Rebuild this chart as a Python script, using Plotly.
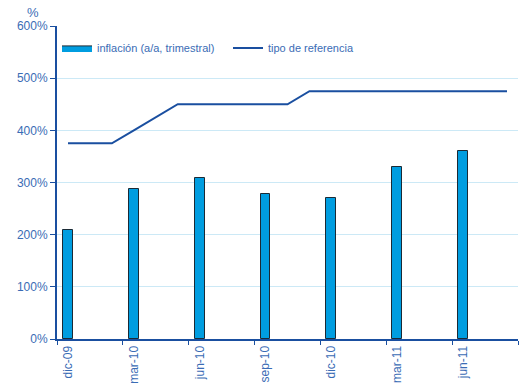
import plotly.graph_objects as go

# Monthly category axis, Dec 2009 to Aug 2011
months = ["dic-09", "ene-10", "feb-10", "mar-10", "abr-10", "may-10", "jun-10",
          "jul-10", "ago-10", "sep-10", "oct-10", "nov-10", "dic-10", "ene-11",
          "feb-11", "mar-11", "abr-11", "may-11", "jun-11", "jul-11", "ago-11"]

# Quarterly inflation (y/y), only on quarter-end months
inflation = [209, None, None, 288, None, None, 308, None, None, 278, None, None,
             270, None, None, 329, None, None, 360, None, None]

# Policy reference rate
reference_rate = [375, 375, 375, 400, 425, 450, 450, 450, 450, 450, 450, 475,
                  475, 475, 475, 475, 475, 475, 475, 475, 475]

AXIS_BLUE = "#1a4fa0"
TEXT_BLUE = "#3a6cb5"
GRID_BLUE = "#cce9f6"
BAR_BLUE = "#009de0"
BAR_EDGE = "#1b2a35"
FONT = "Arial, Liberation Sans, sans-serif"

fig = go.Figure()
fig.add_trace(go.Bar(
    x=months, y=inflation, name="inflación (a/a, trimestral)",
    marker=dict(color=BAR_BLUE, line=dict(color=BAR_EDGE, width=1)),
    width=0.45, showlegend=False,
))
# Legend key for the bars: a wide filled swatch
fig.add_trace(go.Scatter(
    x=[None], y=[None], name="inflación (a/a, trimestral)", mode="lines",
    fill="toself", fillcolor=BAR_BLUE, line=dict(color=BAR_EDGE, width=1),
))
fig.add_trace(go.Scatter(
    x=months, y=reference_rate, name="tipo de referencia", mode="lines",
    line=dict(color=AXIS_BLUE, width=2),
))

fig.update_layout(
    width=523, height=389,
    margin=dict(l=57, r=5, t=26, b=46),
    paper_bgcolor="white", plot_bgcolor="white",
    font=dict(family=FONT, size=12, color=TEXT_BLUE),
    showlegend=True,
    legend=dict(orientation="h", x=0.0, y=0.93, xanchor="left", yanchor="middle",
                font=dict(size=11, color=TEXT_BLUE), bgcolor="rgba(0,0,0,0)",
                traceorder="normal", entrywidth=126),
    bargap=0,
)
fig.update_xaxes(
    type="category", tickmode="linear", tick0=0, dtick=3, tickson="boundaries",
    tickangle=-90, ticks="outside", ticklen=4, tickcolor=AXIS_BLUE, tickwidth=1,
    showline=True, linecolor=AXIS_BLUE, linewidth=2, showgrid=False,
    range=[-0.5, 20.5], tickfont=dict(size=12, color=TEXT_BLUE),
)
fig.update_yaxes(
    range=[0, 600], dtick=100, ticksuffix="%", ticks="outside", ticklen=5,
    tickcolor=AXIS_BLUE, showline=True, linecolor=AXIS_BLUE, linewidth=2,
    showgrid=True, gridcolor=GRID_BLUE, gridwidth=1, zeroline=False,
    tickfont=dict(size=12, color=TEXT_BLUE),
)
fig.add_annotation(text="%", xref="paper", yref="paper", x=-0.053, y=1.0,
                   yshift=14, showarrow=False, xanchor="center", yanchor="middle",
                   font=dict(size=13, color=TEXT_BLUE))

fig.write_html("out.html")
